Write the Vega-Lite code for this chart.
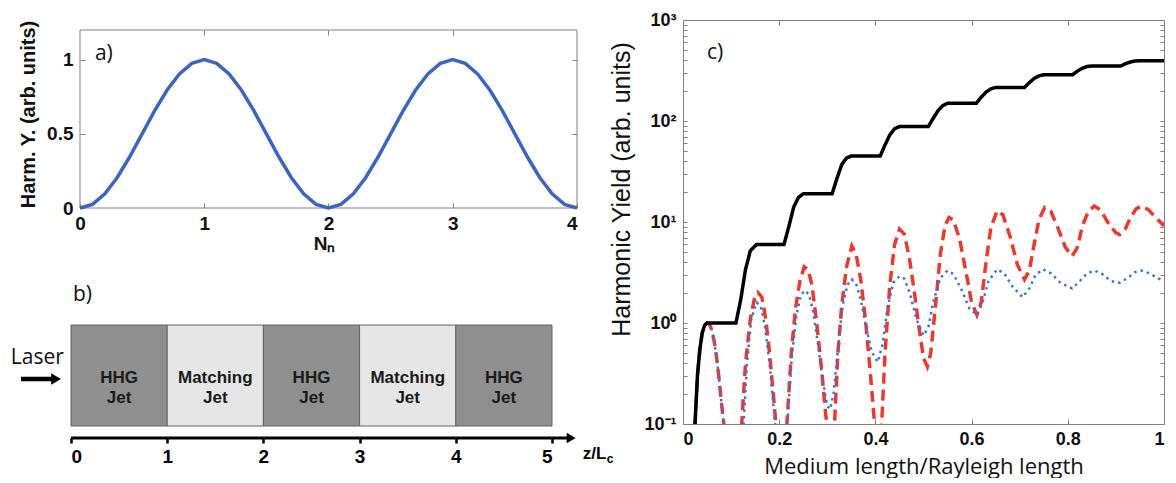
{
  "$schema": "https://vega.github.io/schema/vega-lite/v6.json",
  "padding": {"left": 10, "top": 10, "right": 0, "bottom": 0},
  "background": "white",
  "config": {
    "font": "Liberation Sans",
    "view": {"stroke": null},
    "axis": {"labelColor": "#111", "titleColor": "#111", "labelFont": "Liberation Sans", "titleFont": "Liberation Sans"}
  },
  "datasets": {
    "harm": [
      {"n":0,"h":0},{"n":0.1,"h":0.0245},{"n":0.2,"h":0.0955},{"n":0.3,"h":0.2061},{"n":0.4,"h":0.3455},{"n":0.5,"h":0.5},{"n":0.6,"h":0.6545},{"n":0.7,"h":0.7939},{"n":0.8,"h":0.9045},{"n":0.9,"h":0.9755},
      {"n":1.0,"h":1},{"n":1.1,"h":0.9755},{"n":1.2,"h":0.9045},{"n":1.3,"h":0.7939},{"n":1.4,"h":0.6545},{"n":1.5,"h":0.5},{"n":1.6,"h":0.3455},{"n":1.7,"h":0.2061},{"n":1.8,"h":0.0955},{"n":1.9,"h":0.0245},
      {"n":2.0,"h":0},{"n":2.1,"h":0.0245},{"n":2.2,"h":0.0955},{"n":2.3,"h":0.2061},{"n":2.4,"h":0.3455},{"n":2.5,"h":0.5},{"n":2.6,"h":0.6545},{"n":2.7,"h":0.7939},{"n":2.8,"h":0.9045},{"n":2.9,"h":0.9755},
      {"n":3.0,"h":1},{"n":3.1,"h":0.9755},{"n":3.2,"h":0.9045},{"n":3.3,"h":0.7939},{"n":3.4,"h":0.6545},{"n":3.5,"h":0.5},{"n":3.6,"h":0.3455},{"n":3.7,"h":0.2061},{"n":3.8,"h":0.0955},{"n":3.9,"h":0.0245},{"n":4.0,"h":0}
    ],
    "jets": [
      {"s":0,"e":1,"mid":0.5,"kind":"HHG","lab":"HHG\nJet"},
      {"s":1,"e":2,"mid":1.5,"kind":"Matching","lab":"Matching\nJet"},
      {"s":2,"e":3,"mid":2.5,"kind":"HHG","lab":"HHG\nJet"},
      {"s":3,"e":4,"mid":3.5,"kind":"Matching","lab":"Matching\nJet"},
      {"s":4,"e":5,"mid":4.5,"kind":"HHG","lab":"HHG\nJet"}
    ],
    "black": [
      {"x":0.02,"y":0.03},{"x":0.025,"y":0.1},{"x":0.03,"y":0.3},{"x":0.035,"y":0.55},{"x":0.04,"y":0.8},{"x":0.045,"y":0.95},{"x":0.05,"y":1.0},{"x":0.11,"y":1.0},{"x":0.12,"y":1.7},{"x":0.13,"y":3.4},{"x":0.14,"y":5.2},{"x":0.153,"y":6.0},
      {"x":0.21,"y":6.0},{"x":0.22,"y":9.0},{"x":0.23,"y":14},{"x":0.24,"y":17.5},{"x":0.25,"y":19},{"x":0.31,"y":19},{"x":0.32,"y":27},{"x":0.33,"y":37},{"x":0.34,"y":43},{"x":0.35,"y":45},
      {"x":0.41,"y":45},{"x":0.42,"y":58},{"x":0.43,"y":73},{"x":0.44,"y":84},{"x":0.45,"y":88},{"x":0.51,"y":88},{"x":0.52,"y":106},{"x":0.53,"y":126},{"x":0.54,"y":142},{"x":0.55,"y":150},
      {"x":0.61,"y":150},{"x":0.62,"y":172},{"x":0.63,"y":193},{"x":0.64,"y":208},{"x":0.65,"y":215},{"x":0.71,"y":215},{"x":0.72,"y":240},{"x":0.73,"y":264},{"x":0.74,"y":280},{"x":0.75,"y":287},
      {"x":0.81,"y":287},{"x":0.82,"y":312},{"x":0.83,"y":333},{"x":0.84,"y":346},{"x":0.85,"y":350},{"x":0.91,"y":350},{"x":0.92,"y":369},{"x":0.93,"y":384},{"x":0.94,"y":392},{"x":0.95,"y":395},{"x":1.0,"y":395}
    ],
    "red": [
      {"x":0.02,"y":0.03},{"x":0.025,"y":0.1},{"x":0.03,"y":0.3},{"x":0.035,"y":0.55},{"x":0.04,"y":0.8},{"x":0.045,"y":0.95},{"x":0.05,"y":1.0},{"x":0.055,"y":0.97},{"x":0.06,"y":0.85},{"x":0.065,"y":0.65},{"x":0.07,"y":0.45},{"x":0.075,"y":0.28},{"x":0.08,"y":0.16},{"x":0.085,"y":0.1},{"x":0.095,"y":0.03},{"x":0.105,"y":0.01},
      {"x":0.115,"y":0.03},{"x":0.122,"y":0.1},{"x":0.13,"y":0.4},{"x":0.14,"y":1.1},{"x":0.148,"y":1.7},{"x":0.156,"y":2.0},{"x":0.164,"y":1.8},{"x":0.172,"y":1.1},{"x":0.18,"y":0.5},{"x":0.19,"y":0.15},{"x":0.198,"y":0.05},{"x":0.207,"y":0.03},
      {"x":0.216,"y":0.1},{"x":0.225,"y":0.5},{"x":0.234,"y":1.4},{"x":0.243,"y":2.6},{"x":0.252,"y":3.6},{"x":0.26,"y":3.4},{"x":0.268,"y":2.4},{"x":0.278,"y":1.0},{"x":0.288,"y":0.35},{"x":0.297,"y":0.12},{"x":0.305,"y":0.07},
      {"x":0.315,"y":0.1},{"x":0.322,"y":0.5},{"x":0.33,"y":1.5},{"x":0.34,"y":3.6},{"x":0.351,"y":5.8},{"x":0.36,"y":4.8},{"x":0.37,"y":2.6},{"x":0.38,"y":1.0},{"x":0.39,"y":0.3},{"x":0.4,"y":0.08},{"x":0.407,"y":0.06},
      {"x":0.413,"y":0.1},{"x":0.42,"y":0.5},{"x":0.43,"y":2.4},{"x":0.44,"y":6.0},{"x":0.45,"y":8.5},{"x":0.46,"y":7.6},{"x":0.47,"y":4.6},{"x":0.48,"y":2.2},{"x":0.49,"y":0.95},{"x":0.5,"y":0.45},{"x":0.508,"y":0.37},
      {"x":0.515,"y":0.5},{"x":0.525,"y":1.5},{"x":0.535,"y":4.8},{"x":0.545,"y":9.3},{"x":0.553,"y":11.1},{"x":0.562,"y":10.5},{"x":0.575,"y":6.8},{"x":0.59,"y":2.9},{"x":0.6,"y":1.6},{"x":0.611,"y":1.2},
      {"x":0.62,"y":1.6},{"x":0.63,"y":4.0},{"x":0.64,"y":8.8},{"x":0.653,"y":12.9},{"x":0.665,"y":11.8},{"x":0.68,"y":7.2},{"x":0.695,"y":3.8},{"x":0.71,"y":2.7},
      {"x":0.72,"y":3.3},{"x":0.73,"y":6.0},{"x":0.74,"y":10.5},{"x":0.752,"y":13.9},{"x":0.765,"y":12.7},{"x":0.78,"y":8.6},{"x":0.795,"y":5.6},{"x":0.809,"y":4.6},
      {"x":0.82,"y":5.6},{"x":0.83,"y":9.0},{"x":0.842,"y":12.6},{"x":0.855,"y":14.4},{"x":0.868,"y":13.2},{"x":0.885,"y":9.6},{"x":0.9,"y":7.8},{"x":0.908,"y":7.5},
      {"x":0.92,"y":8.6},{"x":0.93,"y":11.0},{"x":0.942,"y":13.5},{"x":0.954,"y":14.4},{"x":0.968,"y":13.2},{"x":0.985,"y":10.8},{"x":1.0,"y":9.2}
    ],
    "blue": [
      {"x":0.02,"y":0.03},{"x":0.025,"y":0.1},{"x":0.03,"y":0.3},{"x":0.035,"y":0.55},{"x":0.04,"y":0.8},{"x":0.045,"y":0.95},{"x":0.05,"y":1.0},{"x":0.055,"y":0.97},{"x":0.06,"y":0.85},{"x":0.065,"y":0.65},{"x":0.07,"y":0.45},{"x":0.075,"y":0.28},{"x":0.08,"y":0.16},{"x":0.085,"y":0.1},{"x":0.095,"y":0.03},{"x":0.105,"y":0.01},
      {"x":0.118,"y":0.03},{"x":0.126,"y":0.1},{"x":0.133,"y":0.4},{"x":0.142,"y":1.1},{"x":0.153,"y":1.6},{"x":0.162,"y":1.45},{"x":0.17,"y":0.95},{"x":0.18,"y":0.4},{"x":0.19,"y":0.12},{"x":0.198,"y":0.05},{"x":0.208,"y":0.04},
      {"x":0.217,"y":0.1},{"x":0.226,"y":0.45},{"x":0.236,"y":1.2},{"x":0.245,"y":1.9},{"x":0.254,"y":2.1},{"x":0.262,"y":1.9},{"x":0.27,"y":1.35},{"x":0.28,"y":0.65},{"x":0.29,"y":0.28},{"x":0.3,"y":0.15},{"x":0.306,"y":0.14},
      {"x":0.313,"y":0.2},{"x":0.322,"y":0.55},{"x":0.332,"y":1.5},{"x":0.342,"y":2.4},{"x":0.351,"y":2.7},{"x":0.36,"y":2.45},{"x":0.37,"y":1.65},{"x":0.38,"y":0.95},{"x":0.392,"y":0.52},{"x":0.405,"y":0.41},
      {"x":0.415,"y":0.62},{"x":0.425,"y":1.4},{"x":0.437,"y":2.5},{"x":0.45,"y":2.9},{"x":0.46,"y":2.75},{"x":0.472,"y":1.95},{"x":0.485,"y":1.1},{"x":0.5,"y":0.75},
      {"x":0.51,"y":0.9},{"x":0.52,"y":1.6},{"x":0.535,"y":2.8},{"x":0.55,"y":3.3},{"x":0.562,"y":3.05},{"x":0.578,"y":2.2},{"x":0.595,"y":1.4},{"x":0.611,"y":1.2},
      {"x":0.622,"y":1.55},{"x":0.635,"y":2.6},{"x":0.653,"y":3.4},{"x":0.668,"y":3.1},{"x":0.685,"y":2.3},{"x":0.706,"y":1.8},
      {"x":0.72,"y":2.2},{"x":0.733,"y":3.0},{"x":0.748,"y":3.4},{"x":0.765,"y":3.1},{"x":0.785,"y":2.5},{"x":0.809,"y":2.2},
      {"x":0.825,"y":2.6},{"x":0.84,"y":3.1},{"x":0.855,"y":3.3},{"x":0.87,"y":3.1},{"x":0.89,"y":2.6},{"x":0.908,"y":2.5},
      {"x":0.925,"y":2.8},{"x":0.94,"y":3.2},{"x":0.954,"y":3.3},{"x":0.97,"y":3.1},{"x":0.985,"y":2.8},{"x":1.0,"y":2.6}
    ]
  },
  "hconcat": [
    {
      "vconcat": [
        {
          "width": 506,
          "height": 188,
          "layer": [
            {
              "data": {"values": [{}]},
              "mark": {"type": "rect", "fill": "white", "fillOpacity": 0, "stroke": "#8a7c78", "strokeWidth": 1},
              "encoding": {
                "x": {"datum": 0, "type": "quantitative", "scale": {"domain": [-0.07243, 4], "nice": false}, "axis": null},
                "x2": {"datum": 4},
                "y": {"datum": 0, "type": "quantitative", "scale": {"domain": [0, 1.26757], "nice": false}, "axis": null},
                "y2": {"datum": 1.2}
              }
            },
            {
              "data": {"name": "harm"},
              "mark": {"type": "line", "color": "#3d65bd", "strokeWidth": 3.5},
              "encoding": {
                "x": {"field": "n", "type": "quantitative",
                  "axis": {"orient": "bottom", "values": [0, 1, 2, 3, 4], "format": "~g", "tickSize": -5, "tickColor": "#8a7c78", "domain": false, "grid": false,
                    "title": "Nₙ", "titleFontSize": 19, "titleFontWeight": "bold", "titlePadding": 1, "labelFontSize": 19, "labelFontWeight": "bold", "labelPadding": 11}},
                "y": {"field": "h", "type": "quantitative",
                  "axis": {"orient": "left", "offset": -9, "values": [0, 0.5, 1], "format": "~g", "tickSize": -5, "tickColor": "#8a7c78", "domain": false, "grid": false,
                    "title": "Harm. Y. (arb. units)", "titleFontSize": 20, "titleFontWeight": "bold", "titlePadding": 8, "labelFontSize": 19, "labelFontWeight": "bold", "labelPadding": 12}}
              }
            },
            {
              "data": {"values": [{}]},
              "mark": {"type": "text", "text": "a)", "fontSize": 21, "font": "Open Sans", "align": "left", "baseline": "middle", "color": "#111"},
              "encoding": {
                "x": {"datum": 0.12, "type": "quantitative",
                  "axis": {"orient": "top", "offset": -10, "values": [1, 2, 3], "labels": false, "tickSize": -5, "tickColor": "#8a7c78", "domain": false, "grid": false, "title": null}},
                "y": {"datum": 1.04, "type": "quantitative",
                  "axis": {"orient": "right", "values": [0.5, 1], "labels": false, "tickSize": -5, "tickColor": "#8a7c78", "domain": false, "grid": false, "title": null}}
              }
            }
          ],
          "resolve": {"axis": {"x": "independent", "y": "independent"}}
        },
        {
          "width": 481,
          "height": 101,
          "layer": [
            {
              "data": {"name": "jets"},
              "mark": {"type": "rect", "stroke": "#6e5e5e", "strokeWidth": 1},
              "encoding": {
                "x": {"field": "s", "type": "quantitative", "scale": {"domain": [0, 5], "nice": false},
                  "axis": {"values": [0, 1, 2, 3, 4, 5], "format": "d", "offset": 12, "domain": false, "grid": false, "tickSize": 5, "tickWidth": 2.5, "tickColor": "#000",
                    "labelFontSize": 19, "labelFontWeight": "bold", "labelPadding": 4, "labelColor": "#000", "title": null}},
                "x2": {"field": "e"},
                "y": {"datum": 0, "type": "quantitative", "scale": {"domain": [0, 1], "nice": false}, "axis": null},
                "y2": {"datum": 1},
                "color": {"field": "kind", "type": "nominal", "scale": {"domain": ["HHG", "Matching"], "range": ["#8f8f8f", "#e6e6e6"]}, "legend": null}
              }
            },
            {
              "data": {"name": "jets"},
              "mark": {"type": "text", "lineBreak": "\n", "fontSize": 17, "fontWeight": "bold", "lineHeight": 20, "baseline": "middle", "color": "#1a1a1a"},
              "encoding": {
                "x": {"field": "mid", "type": "quantitative"},
                "y": {"datum": 0.478},
                "text": {"field": "lab"}
              }
            },
            {
              "data": {"values": [{}]},
              "mark": {"type": "text", "text": "Laser", "fontSize": 21, "font": "Open Sans", "align": "center", "baseline": "alphabetic", "color": "#111"},
              "encoding": {"x": {"datum": -0.35}, "y": {"datum": 0.614}}
            },
            {
              "data": {"values": [{}]},
              "mark": {"type": "text", "text": "b)", "fontSize": 21, "font": "Open Sans", "align": "left", "baseline": "alphabetic", "color": "#111"},
              "encoding": {"x": {"datum": 0.02}, "y": {"datum": 1.24}}
            },
            {
              "data": {"values": [{}]},
              "mark": {"type": "rule", "strokeWidth": 4.5, "color": "#000"},
              "encoding": {"x": {"datum": -0.52}, "x2": {"datum": -0.17}, "y": {"datum": 0.465}}
            },
            {
              "data": {"values": [{}]},
              "mark": {"type": "point", "shape": "triangle-right", "filled": true, "size": 130, "color": "#000", "opacity": 1},
              "encoding": {"x": {"datum": -0.155}, "y": {"datum": 0.465}}
            },
            {
              "data": {"values": [{}]},
              "mark": {"type": "rule", "strokeWidth": 3, "color": "#000"},
              "encoding": {"x": {"datum": 0}, "x2": {"datum": 5.17}, "y": {"datum": -0.119}}
            },
            {
              "data": {"values": [{}]},
              "mark": {"type": "point", "shape": "triangle-right", "filled": true, "size": 110, "color": "#000", "opacity": 1},
              "encoding": {"x": {"datum": 5.2}, "y": {"datum": -0.119}}
            },
            {
              "data": {"values": [{}]},
              "mark": {"type": "text", "text": "z/L", "fontSize": 17, "fontWeight": "bold", "align": "left", "baseline": "alphabetic", "color": "#000"},
              "encoding": {"x": {"datum": 5.32}, "y": {"datum": -0.327}}
            },
            {
              "data": {"values": [{}]},
              "mark": {"type": "text", "text": "c", "fontSize": 12, "fontWeight": "bold", "align": "left", "baseline": "alphabetic", "color": "#000"},
              "encoding": {"x": {"datum": 5.57}, "y": {"datum": -0.366}}
            }
          ]
        }
      ],
      "spacing": 30
    },
    {
      "width": 481,
      "height": 404,
      "view": {"stroke": "#8a7c78"},
      "layer": [
        {
          "data": {"name": "red"},
          "mark": {"type": "line", "color": "#e63b2e", "strokeWidth": 3.5, "strokeDash": [11, 6], "clip": true},
          "encoding": {
            "x": {"field": "x", "type": "quantitative", "scale": {"domain": [0, 1], "nice": false},
              "axis": {"orient": "bottom", "values": [0, 0.2, 0.4, 0.6, 0.8, 1], "format": "~g", "tickSize": -5, "tickColor": "#8a7c78", "domain": false, "grid": false,
                "labelFontSize": 18, "labelFontWeight": "bold", "labelPadding": 11, "title": "Medium length/Rayleigh length", "titleFont": "Open Sans", "titleFontSize": 22, "titleFontWeight": "normal", "titlePadding": 8}},
            "y": {"field": "y", "type": "quantitative", "scale": {"type": "log", "domain": [0.1, 1000], "nice": false},
              "axis": {"orient": "left", "values": [0.1,0.2,0.3,0.4,0.5,0.6,0.7,0.8,0.9,1,2,3,4,5,6,7,8,9,10,20,30,40,50,60,70,80,90,100,200,300,400,500,600,700,800,900,1000],
                "labelExpr": "datum.value == 0.1 ? '10⁻¹' : datum.value == 1 ? '10⁰' : datum.value == 10 ? '10¹' : datum.value == 100 ? '10²' : datum.value == 1000 ? '10³' : ''",
                "labelOverlap": false, "tickSize": -4, "tickColor": "#8a7c78", "domain": false, "grid": false, "labelFontSize": 18, "labelFontWeight": "bold", "labelPadding": 11,
                "title": "Harmonic Yield (arb. units)", "titleFontSize": 25, "titleFontWeight": "normal", "titlePadding": 9, "titleY": 169}}
          }
        },
        {
          "data": {"name": "blue"},
          "mark": {"type": "line", "color": "#3a74d8", "strokeWidth": 2.5, "strokeDash": [2.5, 4], "clip": true},
          "encoding": {
            "x": {"field": "x", "type": "quantitative",
              "axis": {"orient": "top", "values": [0.2, 0.4, 0.6, 0.8], "labels": false, "tickSize": -5, "tickColor": "#8a7c78", "domain": false, "grid": false, "title": null}},
            "y": {"field": "y", "type": "quantitative",
              "axis": {"orient": "right", "values": [0.2,0.3,0.4,0.5,0.6,0.7,0.8,0.9,1,2,3,4,5,6,7,8,9,10,20,30,40,50,60,70,80,90,100,200,300,400,500,600,700,800,900],
                "labels": false, "tickSize": -4, "tickColor": "#8a7c78", "domain": false, "grid": false, "title": null}}
          }
        },
        {
          "data": {"name": "black"},
          "mark": {"type": "line", "color": "#000", "strokeWidth": 3.5, "clip": true},
          "encoding": {
            "x": {"field": "x", "type": "quantitative", "axis": null},
            "y": {"field": "y", "type": "quantitative", "axis": null}
          }
        },
        {
          "data": {"values": [{}]},
          "mark": {"type": "text", "text": "c)", "fontSize": 21, "font": "Open Sans", "align": "left", "baseline": "middle", "color": "#111"},
          "encoding": {
            "x": {"datum": 0.05, "type": "quantitative", "axis": null},
            "y": {"datum": 470, "type": "quantitative", "axis": null}
          }
        }
      ],
      "resolve": {"axis": {"x": "independent", "y": "independent"}}
    }
  ],
  "spacing": -5
}
